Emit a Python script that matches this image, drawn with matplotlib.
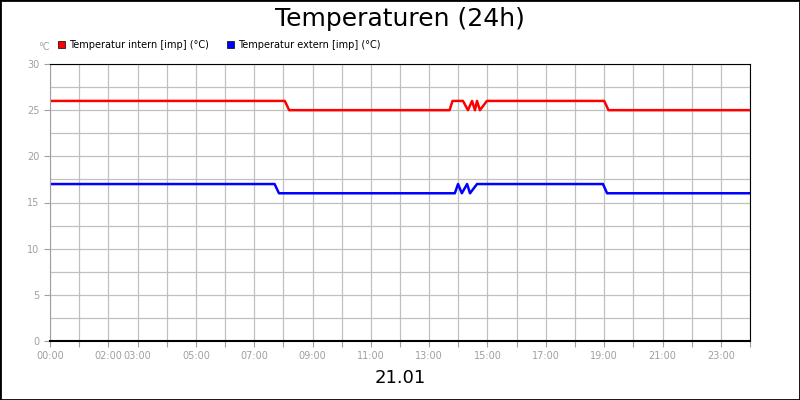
import matplotlib
matplotlib.use("Agg")
import matplotlib.pyplot as plt
from matplotlib.patches import Rectangle

red_t = [0, 8.05, 8.2, 13.7, 13.8, 14.16, 14.33, 14.47, 14.57, 14.64, 14.74, 14.98, 19.0, 19.15, 24]
red_v = [26, 26, 25, 25, 26, 26, 25, 26, 25, 26, 25, 26, 26, 25, 25]
blue_t = [0, 7.7, 7.85, 13.88, 13.99, 14.12, 14.3, 14.4, 14.64, 18.96, 19.1, 24]
blue_v = [17, 17, 16, 16, 17, 16, 17, 16, 17, 17, 16, 16]
xlabels = {0: "00:00", 2: "02:00", 3: "03:00", 5: "05:00", 7: "07:00", 9: "09:00", 11: "11:00",
           13: "13:00", 15: "15:00", 17: "17:00", 19: "19:00", 21: "21:00", 23: "23:00"}
yticks = [0, 5, 10, 15, 20, 25, 30]

fig = plt.figure(figsize=(8, 4), dpi=100)
fig.patches.append(Rectangle((0, 0), 1, 1, transform=fig.transFigure, fill=False, edgecolor="black", linewidth=2))
ax = fig.add_axes([50/800, 59/400, 700/800, 277/400])
ax.set_xlim(0, 24)
ax.set_ylim(0, 30)
for h in range(25):
    ax.axvline(h, color="#c0c0c0", lw=0.9, zorder=0)
for y in [i * 2.5 for i in range(13)]:
    ax.axhline(y, color="#c0c0c0", lw=0.9, zorder=0)
ax.plot(red_t, red_v, color="#ff0000", lw=1.8)
ax.plot(blue_t, blue_v, color="#0000ff", lw=1.8)
ax.set_xticks(range(25))
ax.set_xticklabels([xlabels.get(h, "") for h in range(25)])
ax.set_yticks(yticks)
ax.tick_params(colors="#a0a0a0", labelsize=7, length=4)
for s in ["top", "right", "bottom"]:
    ax.spines[s].set_color("black")
ax.spines["bottom"].set_linewidth(1.5)
ax.spines["left"].set_color("#a0a0a0")
fig.text(0.5, 1 - 19/400, "Temperaturen (24h)", ha="center", va="center", fontsize=18)
fig.text(38/800, 1 - 47/400, "°C", ha="left", va="center", fontsize=7, color="#a0a0a0")
fig.text(0.5, 1 - 378/400, "21.01", ha="center", va="center", fontsize=13)
for x0, col, lab in [(58, "#ff0000", "Temperatur intern [imp] (°C)"), (227, "#0000ff", "Temperatur extern [imp] (°C)")]:
    fig.patches.append(Rectangle((x0/800, 1 - 48/400), 7/800, 7/400, transform=fig.transFigure,
                                 facecolor=col, edgecolor="black", lw=0.5))
    fig.text((x0 + 11)/800, 1 - 44.5/400, lab, ha="left", va="center", fontsize=7)
fig.savefig("out.png", dpi=100)
